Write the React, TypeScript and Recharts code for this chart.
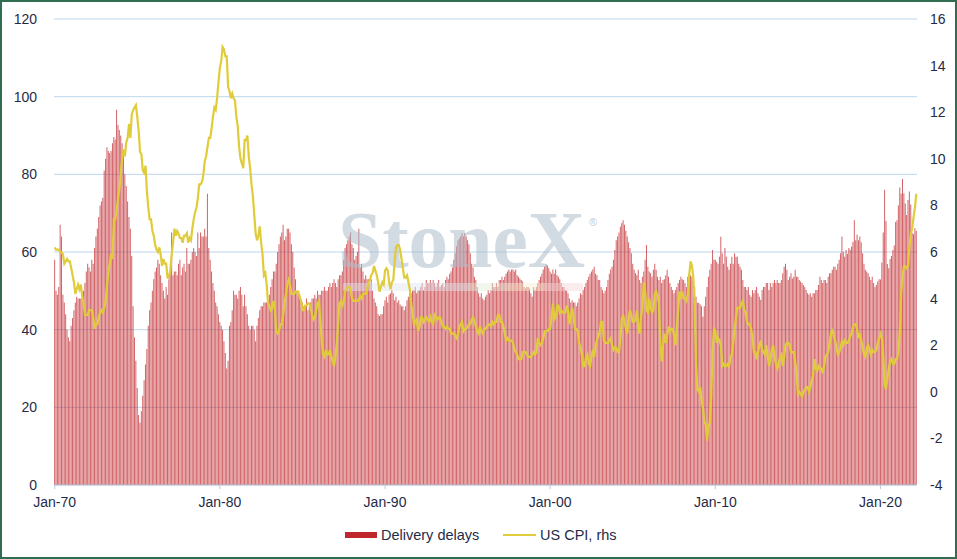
import { ComposedChart, Bar, Line, XAxis, YAxis, CartesianGrid } from "recharts";

// monthly series, Jan-70 .. Mar-22, one row per year
const START_YEAR = 1970;
const MONTHS = ["Jan", "Feb", "Mar", "Apr", "May", "Jun", "Jul", "Aug", "Sep", "Oct", "Nov", "Dec"];

const DELIVERY_DELAYS: number[][] = [
  [58, 50, 49, 51, 67, 64, 49, 47, 44, 40, 38, 37],
  [41, 43, 45, 47, 48.5, 48, 48, 48, 48, 50, 52, 55],
  [57, 56, 55, 58, 57, 61, 64, 66, 69, 72, 73, 74],
  [81, 84, 87, 86, 85.5, 86, 88, 89.6, 89, 96.6, 92.7, 91.4],
  [90, 88, 85, 80, 77, 73, 69, 66, 59, 46, 38, 32],
  [25, 18, 16, 19, 23, 27, 31, 35, 41, 45, 47, 50],
  [53, 55, 56, 58, 57, 54, 52, 50, 48, 51, 49, 53],
  [55, 65, 54, 55, 55, 54, 57, 58, 54, 56, 57, 55],
  [61, 57, 57, 58, 60, 61, 60, 59, 65, 61, 65, 64],
  [64, 66, 64, 75, 61, 58, 55, 52, 50, 47, 46, 44],
  [42, 41, 40, 37, 34, 30, 32, 41, 42, 45, 50, 49],
  [49, 48, 50, 51, 49, 46, 49, 46, 44, 41, 40, 41],
  [41, 40, 37, 41, 43, 45, 46, 46, 47, 47, 47, 47],
  [49, 51, 53, 55, 55, 57, 60, 62, 64, 65, 67, 63],
  [64, 66, 66, 65, 62, 60, 56, 53, 50, 49, 48, 47],
  [47, 46, 46, 48, 45, 46, 47, 48, 48, 49, 48, 50],
  [49, 49, 50, 50, 51, 50, 50, 51, 52, 51, 52, 53],
  [52, 51, 53, 54, 54, 55, 58, 61, 62, 63, 64, 65],
  [62, 61, 58, 59, 60, 66, 56, 57, 55, 53, 54, 53],
  [53, 52, 53, 50, 48, 47, 46, 44, 43.5, 44, 44, 46],
  [47.6, 48.5, 47, 49, 49.4, 50.2, 49.4, 47.6, 48.5, 47, 47.6, 46.5],
  [46, 46, 45, 46, 47.6, 48.5, 49.4, 49.4, 50, 50.2, 51, 49.4],
  [50, 50.2, 51, 52, 50.2, 51, 52.8, 52, 52, 52.8, 52, 52.8],
  [52, 51, 52, 52.8, 51, 51.5, 52, 51, 52.8, 53.6, 53, 54.4],
  [55, 56, 58, 59.7, 61.4, 63, 63.5, 64, 64.8, 64, 64.8, 64],
  [63, 62, 59.7, 57, 56, 53.6, 52.8, 51, 49.4, 48.5, 49.4, 48],
  [47.6, 48.5, 49, 50.2, 49.4, 50.2, 52, 51, 51, 52, 51, 52.8],
  [52.8, 53.6, 52.8, 53.6, 54.4, 55, 55.5, 55, 55.5, 55.5, 55, 55.5],
  [54, 53.6, 53.2, 52.8, 52.4, 51, 50.6, 51, 51, 50.6, 49.4, 48.5],
  [51, 50.2, 51, 52, 52.8, 53.6, 54.4, 55.5, 56.2, 56.7, 56.5, 55.8],
  [55, 54.4, 55.5, 54.4, 55.5, 54, 53.6, 53, 52, 51, 51, 50.2],
  [50, 49.4, 48, 47, 47.6, 47, 47, 46, 46.9, 48, 49.4, 49],
  [50.2, 51, 52, 52.8, 53.6, 54.4, 55, 55.5, 56.2, 54.4, 54, 52.8],
  [52.8, 51, 50.2, 49.4, 50, 51, 52.8, 54.4, 55.5, 56.2, 58, 60.5],
  [63, 64, 65, 66.5, 67.4, 68.2, 67, 65.5, 64, 62.5, 61, 59.7],
  [57, 55.5, 54.5, 54, 55.4, 52.8, 52, 53.6, 55, 58, 61.8, 56.2],
  [55, 54.5, 53.6, 55.4, 57, 55.4, 53.6, 52.8, 53.6, 52, 52.8, 53],
  [54, 55.4, 53.6, 52, 51, 50.2, 49.4, 50.2, 51, 52, 52.8, 53.6],
  [53, 52.8, 52, 51, 53.6, 54.5, 54, 53.6, 52.8, 51, 48.5, 46.9],
  [46.9, 46.5, 46, 43.3, 46, 48.5, 51, 53.6, 55.4, 57, 60.5, 58],
  [58, 57.5, 57, 58.8, 63.9, 59.7, 57, 61, 58.8, 56.2, 55.4, 57],
  [58.8, 57, 59.7, 58.8, 58.8, 57, 56.2, 55.4, 52.8, 51, 51, 50.2],
  [51, 49, 48.5, 50.2, 49.4, 50.2, 51, 49.4, 48.5, 47.7, 50.2, 51],
  [51, 52, 52, 50.2, 52, 51, 52, 52.8, 52, 52.8, 52, 52],
  [52.8, 54.5, 56.2, 57, 55.4, 52.8, 53.6, 54.5, 53.2, 53.6, 55.4, 53.6],
  [53.6, 52.8, 52.4, 52, 51.5, 51, 50.2, 49.4, 49, 49.4, 48.5, 49.4],
  [49.4, 50.2, 50.2, 51.5, 53.6, 52.8, 52, 52.8, 52.8, 52, 53.6, 54.5],
  [54.5, 55.4, 56.2, 56.2, 55.4, 57, 58, 59.7, 64, 60, 58.8, 60.5],
  [59.5, 61, 60.6, 61.4, 62.6, 68.2, 63, 64.5, 63, 64, 62.5, 59.7],
  [57, 55.4, 55, 54.5, 53.6, 52.8, 53.6, 52, 51, 51.5, 52.4, 53],
  [52.9, 57.3, 65, 76, 68, 56.9, 55.8, 58.2, 59, 60.5, 61.7, 67.7],
  [68.2, 72, 76.6, 75, 78.8, 75.1, 72.5, 69.5, 73.4, 75.6, 72.2, 64.9],
  [64.6, 66.1, 65.4],
];

const US_CPI: number[][] = [
  [6.2, 6.1, 6.1, 6.1, 6.0, 6.0, 5.9, 5.5, 5.6, 5.7, 5.6, 5.6],
  [5.3, 5.0, 4.7, 4.2, 4.4, 4.6, 4.4, 4.6, 4.1, 3.8, 3.3, 3.3],
  [3.3, 3.5, 3.5, 3.5, 3.2, 2.7, 2.9, 2.9, 3.2, 3.4, 3.5, 3.4],
  [3.6, 3.9, 4.6, 5.1, 5.5, 5.9, 5.7, 7.4, 7.4, 7.8, 8.3, 8.7],
  [9.4, 10.0, 10.4, 10.1, 10.7, 10.9, 11.5, 10.9, 11.9, 12.1, 12.2, 12.3],
  [11.8, 11.2, 10.3, 10.2, 9.5, 9.4, 9.7, 8.6, 7.9, 7.4, 7.4, 6.9],
  [6.7, 6.3, 6.1, 6.0, 6.2, 5.9, 5.4, 5.7, 5.5, 5.5, 4.9, 4.9],
  [5.2, 5.9, 6.4, 7.0, 6.7, 6.9, 6.8, 6.6, 6.6, 6.4, 6.7, 6.7],
  [6.8, 6.4, 6.6, 6.5, 7.0, 7.4, 7.7, 7.9, 8.3, 8.9, 8.9, 9.0],
  [9.3, 9.9, 10.1, 10.5, 10.9, 10.9, 11.3, 11.8, 12.2, 12.1, 12.6, 13.3],
  [13.9, 14.2, 14.8, 14.7, 14.4, 14.4, 13.1, 12.9, 12.6, 12.8, 12.6, 12.5],
  [11.8, 11.4, 10.5, 10.0, 9.8, 9.6, 10.8, 10.8, 11.0, 10.1, 9.6, 8.9],
  [8.4, 7.6, 6.8, 6.5, 6.7, 7.1, 6.4, 5.9, 5.0, 5.1, 4.6, 3.8],
  [3.7, 3.5, 3.6, 3.9, 3.5, 2.6, 2.5, 2.6, 2.9, 2.9, 3.3, 3.8],
  [4.2, 4.6, 4.8, 4.6, 4.2, 4.2, 4.2, 4.3, 4.3, 4.3, 4.1, 3.9],
  [3.5, 3.5, 3.7, 3.7, 3.8, 3.8, 3.6, 3.3, 3.1, 3.2, 3.5, 3.8],
  [3.9, 3.1, 2.2, 1.6, 1.5, 1.8, 1.6, 1.6, 1.8, 1.5, 1.3, 1.1],
  [1.5, 2.1, 3.0, 3.8, 3.9, 3.7, 3.9, 4.3, 4.4, 4.5, 4.5, 4.4],
  [4.0, 3.9, 3.9, 3.9, 3.9, 4.0, 4.1, 4.0, 4.2, 4.2, 4.2, 4.4],
  [4.7, 4.8, 5.0, 5.1, 5.4, 5.2, 5.0, 4.7, 4.3, 4.5, 4.7, 4.6],
  [5.2, 5.3, 5.2, 4.7, 4.4, 4.7, 4.8, 5.6, 6.2, 6.3, 6.3, 6.1],
  [5.7, 5.3, 4.9, 4.9, 5.0, 4.7, 4.4, 3.8, 3.4, 2.9, 3.0, 3.1],
  [2.6, 2.8, 3.2, 3.2, 3.0, 3.1, 3.2, 3.1, 3.0, 3.2, 3.0, 2.9],
  [3.3, 3.2, 3.1, 3.2, 3.2, 3.0, 2.8, 2.8, 2.7, 2.8, 2.7, 2.7],
  [2.5, 2.5, 2.5, 2.4, 2.3, 2.5, 2.8, 2.9, 3.0, 2.6, 2.7, 2.7],
  [2.8, 2.9, 2.9, 3.1, 3.2, 3.0, 2.8, 2.6, 2.5, 2.8, 2.6, 2.5],
  [2.7, 2.7, 2.8, 2.9, 2.9, 2.8, 3.0, 2.9, 3.0, 3.0, 3.3, 3.3],
  [3.0, 3.0, 2.8, 2.5, 2.2, 2.3, 2.2, 2.2, 2.2, 2.1, 1.8, 1.7],
  [1.6, 1.4, 1.4, 1.4, 1.7, 1.7, 1.7, 1.6, 1.5, 1.5, 1.5, 1.6],
  [1.7, 1.6, 1.7, 2.3, 2.1, 2.0, 2.1, 2.3, 2.6, 2.6, 2.6, 2.7],
  [2.7, 3.2, 3.8, 3.1, 3.2, 3.7, 3.7, 3.4, 3.5, 3.4, 3.4, 3.4],
  [3.7, 3.5, 2.9, 3.3, 3.6, 3.2, 2.7, 2.7, 2.6, 2.1, 1.9, 1.6],
  [1.1, 1.1, 1.5, 1.6, 1.2, 1.1, 1.5, 1.8, 1.5, 2.0, 2.2, 2.4],
  [2.6, 3.0, 3.0, 2.2, 2.1, 2.1, 2.1, 2.2, 2.3, 2.0, 1.8, 1.9],
  [1.9, 1.7, 1.7, 2.3, 3.1, 3.3, 3.0, 2.7, 2.5, 3.2, 3.5, 3.3],
  [3.0, 3.0, 3.1, 3.5, 2.8, 2.5, 3.2, 3.6, 4.7, 4.3, 3.5, 3.4],
  [4.0, 3.6, 3.4, 3.5, 4.2, 4.3, 4.1, 3.8, 2.1, 1.3, 2.0, 2.5],
  [2.1, 2.4, 2.8, 2.6, 2.7, 2.7, 2.4, 2.0, 2.8, 3.5, 4.3, 4.1],
  [4.3, 4.0, 4.0, 3.9, 4.2, 5.0, 5.6, 5.4, 4.9, 3.7, 1.1, 0.1],
  [0.0, 0.2, -0.4, -0.7, -1.3, -1.4, -2.1, -1.5, -1.3, -0.2, 1.8, 2.7],
  [2.6, 2.1, 2.3, 2.2, 2.0, 1.1, 1.2, 1.1, 1.1, 1.2, 1.1, 1.5],
  [1.6, 2.1, 2.7, 3.2, 3.6, 3.6, 3.6, 3.8, 3.9, 3.5, 3.4, 3.0],
  [2.9, 2.9, 2.7, 2.3, 1.7, 1.7, 1.4, 1.7, 2.0, 2.2, 1.8, 1.7],
  [1.6, 2.0, 1.5, 1.1, 1.4, 1.8, 2.0, 1.5, 1.2, 1.0, 1.2, 1.5],
  [1.6, 1.1, 1.5, 2.0, 2.1, 2.1, 2.0, 1.7, 1.7, 1.7, 1.3, 0.8],
  [-0.1, 0.0, -0.1, -0.2, 0.0, 0.1, 0.2, 0.2, 0.0, 0.2, 0.5, 0.7],
  [1.4, 1.0, 0.9, 1.1, 1.0, 1.0, 0.8, 1.1, 1.5, 1.6, 1.7, 2.1],
  [2.5, 2.7, 2.4, 2.2, 1.9, 1.6, 1.7, 1.9, 2.2, 2.0, 2.2, 2.1],
  [2.1, 2.2, 2.4, 2.5, 2.8, 2.9, 2.9, 2.7, 2.3, 2.5, 2.2, 1.9],
  [1.6, 1.5, 1.9, 2.0, 1.8, 1.6, 1.8, 1.7, 1.7, 1.8, 2.1, 2.3],
  [2.5, 2.3, 1.5, 0.3, 0.1, 0.6, 1.0, 1.3, 1.4, 1.2, 1.2, 1.4],
  [1.4, 1.7, 2.6, 4.2, 5.0, 5.4, 5.4, 5.3, 5.4, 6.2, 6.8, 7.0],
  [7.5, 7.9, 8.5],
];

const X_TICKS = ["Jan-70", "Jan-80", "Jan-90", "Jan-00", "Jan-10", "Jan-20"];
const LEFT_TICKS = [0, 20, 40, 60, 80, 100, 120];
const RIGHT_TICKS = [-4, -2, 0, 2, 4, 6, 8, 10, 12, 14, 16];

const W = 957;
const H = 559;
const FONT = "'Liberation Sans', Arial, sans-serif";
const TEXT = "#1f2b47";
const BAR_RED = "#c0272d";
const CPI_YELLOW = "#e0cc3a";

const data = DELIVERY_DELAYS.flatMap((row, yi) =>
  row.map((v, mi) => ({
    month: `${MONTHS[mi]}-${String((START_YEAR + yi) % 100).padStart(2, "0")}`,
    delays: v,
    cpi: US_CPI[yi][mi],
  }))
);

const tick = { fill: TEXT, fontSize: 14, fontFamily: FONT };

function Overlay() {
  return (
    <svg width={W} height={H} style={{ position: "absolute", left: 0, top: 0 }}>
      {/* StoneX watermark */}
      <text
        x={338}
        y={267}
        fontFamily="'Liberation Serif', 'Times New Roman', serif"
        fontWeight="bold"
        fontSize={80}
        textLength={247}
        lengthAdjust="spacingAndGlyphs"
        fill="#aebdcc"
        opacity={0.55}
      >
        StoneX
      </text>
      <text x={589} y={226} fontSize={11} fontFamily={FONT} fill="#c3ccd6">
        ®
      </text>
      <g opacity={0.45}>
        <rect x={343} y={283} width={127} height={8} fill="#dfe8f1" />
        <rect x={470} y={283} width={35} height={8} fill="#e4eedb" />
        <rect x={505} y={283} width={40} height={8} fill="#f6eed2" />
        <rect x={545} y={283} width={38} height={8} fill="#f5d7d7" />
      </g>
      {/* legend */}
      <rect x={345} y={532} width={32} height={6} fill={BAR_RED} />
      <text x={381} y={540} fontSize={14.5} fontFamily={FONT} fill={TEXT}>
        Delivery delays
      </text>
      <line x1={503} x2={536} y1={535} y2={535} stroke={CPI_YELLOW} strokeWidth={2} />
      <text x={540} y={540} fontSize={14.5} fontFamily={FONT} fill={TEXT}>
        US CPI, rhs
      </text>
    </svg>
  );
}

export default function App() {
  return (
    <div style={{ position: "absolute", left: 0, top: 0, width: W, height: H, background: "#fff" }}>
      <div style={{ position: "absolute", left: 0, top: 0 }}>
        <ComposedChart
          width={W}
          height={H}
          data={data}
          margin={{ top: 19, right: 0, bottom: 44, left: 0 }}
          barCategoryGap="10%"
          style={{ fontFamily: FONT }}
        >
          <CartesianGrid yAxisId="left" vertical={false} stroke="#bdd7ee" />
          <XAxis
            dataKey="month"
            ticks={X_TICKS}
            interval={0}
            height={30}
            tick={tick}
            tickSize={4}
            tickMargin={8}
            axisLine={{ stroke: "#bccbdc" }}
            tickLine={{ stroke: "#bccbdc" }}
          />
          <YAxis
            yAxisId="left"
            domain={[0, 120]}
            ticks={LEFT_TICKS}
            width={54}
            axisLine={false}
            tickLine={false}
            tickSize={0}
            tickMargin={17}
            tick={tick}
          />
          <YAxis
            yAxisId="right"
            orientation="right"
            domain={[-4, 16]}
            ticks={RIGHT_TICKS}
            width={40}
            axisLine={false}
            tickLine={false}
            tickSize={0}
            tickMargin={13}
            tick={tick}
          />
          <Bar
            yAxisId="left"
            dataKey="delays"
            fill={BAR_RED}
            fillOpacity={0.72}
            isAnimationActive={false}
          />
          <Line
            yAxisId="right"
            dataKey="cpi"
            stroke="none"
            dot={false}
            activeDot={false}
            isAnimationActive={false}
          />
        </ComposedChart>
      </div>
      <Overlay />
      <div style={{ position: "absolute", left: 0, top: 0 }}>
        <ComposedChart
          width={W}
          height={H}
          data={data}
          margin={{ top: 19, right: 40, bottom: 74, left: 54 }}
          barCategoryGap="10%"
        >
          <XAxis dataKey="month" hide />
          <YAxis yAxisId="left" domain={[0, 120]} hide />
          <YAxis yAxisId="right" domain={[-4, 16]} hide />
          <Bar yAxisId="left" dataKey="delays" fill="none" isAnimationActive={false} />
          <Line
            yAxisId="right"
            type="linear"
            dataKey="cpi"
            stroke={CPI_YELLOW}
            strokeWidth={2.2}
            dot={false}
            activeDot={false}
            isAnimationActive={false}
          />
        </ComposedChart>
      </div>
      <div
        style={{
          position: "absolute",
          left: 0,
          top: 0,
          width: W,
          height: H,
          boxSizing: "border-box",
          border: "2px solid #2f6e50",
          pointerEvents: "none",
        }}
      />
    </div>
  );
}
